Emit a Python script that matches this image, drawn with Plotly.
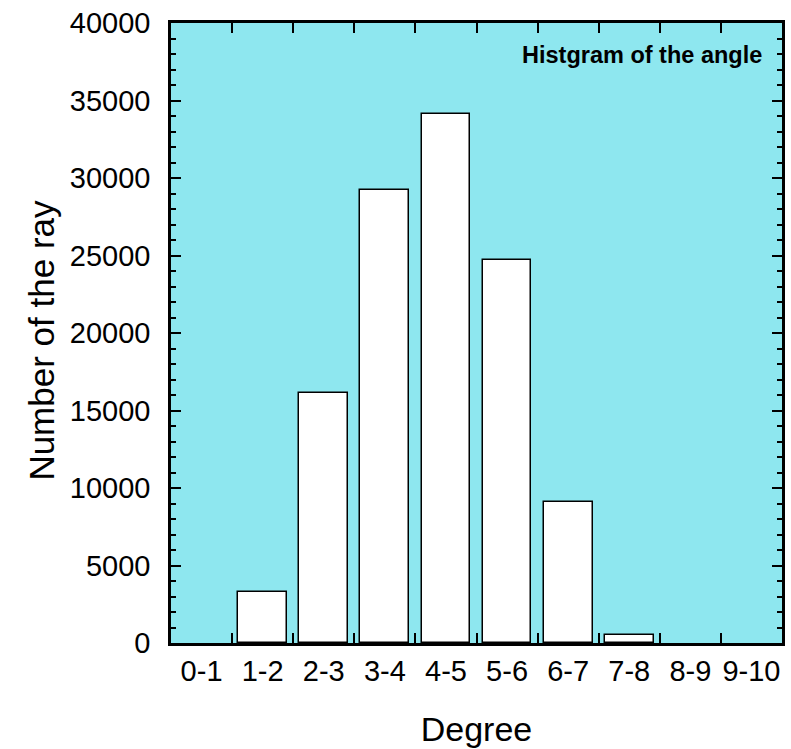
import plotly.graph_objects as go

# Histogram of ray angles, binned per degree
categories = ["0-1", "1-2", "2-3", "3-4", "4-5", "5-6", "6-7", "7-8", "8-9", "9-10"]
bin_left = [0, 1, 2, 3, 4, 5, 6, 7, 8, 9]
counts = [0, 3300, 16100, 29200, 34100, 24700, 9100, 500, 0, 0]

y_ticks = [0, 5000, 10000, 15000, 20000, 25000, 30000, 35000, 40000]

centers = [b + 0.5 for b in bin_left]
edges = [b for b in bin_left[1:]]
# empty bins get no outline so nothing is drawn along the baseline
outline = [1.5 if c > 0 else 0 for c in counts]

FONT = "Liberation Sans, Arial, sans-serif"
BG = "#8EE7EF"

fig = go.Figure()
fig.add_trace(go.Bar(
    x=centers, y=counts, width=0.8,
    marker=dict(color="white", line=dict(color="black", width=outline)),
    showlegend=False, hoverinfo="x+y",
))
# helper trace so the mirrored top/right axes get drawn
fig.add_trace(go.Scatter(x=[None], y=[None], xaxis="x2", yaxis="y2",
                         showlegend=False, hoverinfo="skip"))

fig.update_layout(
    width=791, height=749,
    margin=dict(l=171, r=6, t=23, b=106),
    paper_bgcolor="white", plot_bgcolor=BG,
    font=dict(family=FONT, color="black"),
    bargap=0,
    xaxis=dict(
        range=[0, 10], tickmode="array", tickvals=centers, ticktext=categories,
        ticks="", showgrid=False, zeroline=False,
        showline=True, linecolor="black", linewidth=2.5, mirror=True,
        tickfont=dict(size=29),
        minor=dict(tickmode="array", tickvals=edges, ticks="inside",
                   ticklen=10, tickwidth=2, tickcolor="black", showgrid=False),
        title=dict(text="Degree", font=dict(size=34), standoff=32),
    ),
    xaxis2=dict(
        range=[0, 10], overlaying="x", side="top", anchor="y",
        tickmode="array", tickvals=edges, ticks="inside", ticklen=10,
        tickwidth=2, tickcolor="black", showticklabels=False,
        showgrid=False, zeroline=False, showline=False,
    ),
    yaxis=dict(
        range=[0, 40000], tickmode="array", tickvals=y_ticks,
        tickformat="d", ticks="inside", ticklen=10, tickwidth=2, tickcolor="black",
        showgrid=False, zeroline=False,
        showline=True, linecolor="black", linewidth=2.5, mirror=True,
        tickfont=dict(size=29), ticklabelstandoff=12,
        minor=dict(dtick=1000, tick0=0, ticks="inside", ticklen=5,
                   tickwidth=2, tickcolor="black", showgrid=False),
    ),
    yaxis2=dict(
        range=[0, 40000], overlaying="y", side="right", anchor="x",
        tickmode="array", tickvals=y_ticks, ticks="inside", ticklen=10,
        tickwidth=2, tickcolor="black", showticklabels=False,
        minor=dict(dtick=1000, tick0=0, ticks="inside", ticklen=5,
                   tickwidth=2, tickcolor="black", showgrid=False),
        showgrid=False, zeroline=False, showline=False,
    ),
    annotations=[
        dict(
            text="<b>Histgram of the angle</b>", xref="paper", yref="paper",
            x=0.9705, y=0.948, xanchor="right", yanchor="middle", showarrow=False,
            font=dict(family=FONT, size=23.5, color="black"),
        ),
        dict(
            text="Number of the ray", xref="paper", yref="paper",
            x=-0.2134, y=0.4887, xanchor="center", yanchor="middle",
            textangle=-90, showarrow=False,
            font=dict(family=FONT, size=35, color="black"),
        ),
    ],
)

fig.write_html("out.html")
